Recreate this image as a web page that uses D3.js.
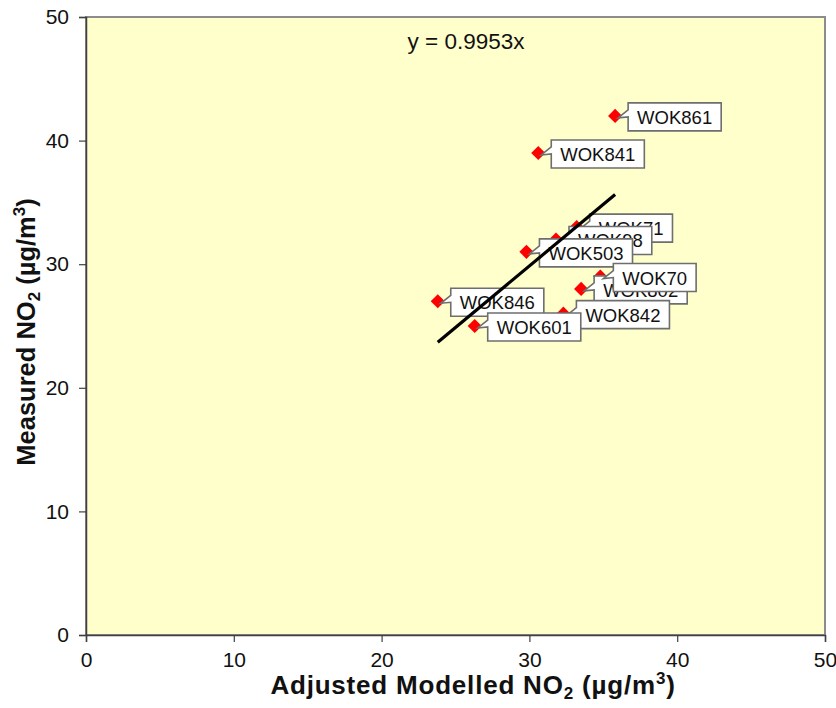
<!DOCTYPE html>
<html>
<head>
<meta charset="utf-8">
<script src="https://cdn.jsdelivr.net/npm/d3@7"></script>
<style>
  html, body { margin: 0; padding: 0; background: #fff; }
  svg { display: block; font-family: "Liberation Sans", Arial, sans-serif; }
</style>
</head>
<body>
<svg id="chart" width="836" height="708"></svg>
<script>
// Diffusion tube sites: adjusted modelled vs measured NO2 (µg/m³)
const sites    = ["WOK861", "WOK841", "WOK71", "WOK98", "WOK503", "WOK802", "WOK70", "WOK842", "WOK846", "WOK601"];
const modelled = [35.8, 30.6, 33.2, 31.8, 29.8, 33.5, 34.8, 32.3, 23.8, 26.3];
const measured = [42, 39, 33, 32, 31, 28, 29, 26, 27, 25];
const slope = 0.9953;
const xTicks = [0, 10, 20, 30, 40, 50];
const yTicks = [0, 10, 20, 30, 40, 50];

const svg = d3.select("#chart");
const m = { left: 86, right: 11, top: 17, bottom: 73 };
const W = 836, H = 708;
const x = d3.scaleLinear().domain([0, 50]).range([m.left, W - m.right]);
const y = d3.scaleLinear().domain([0, 50]).range([H - m.bottom, m.top]);

// plot area
svg.append("rect")
  .attr("x", x(0)).attr("y", y(50))
  .attr("width", x(50) - x(0)).attr("height", y(0) - y(50))
  .attr("fill", "#FFFFCC").attr("stroke", "#8c8c8c").attr("stroke-width", 2);

// axes
const xAxis = svg.append("g")
  .attr("transform", `translate(0,${y(0)})`)
  .call(d3.axisBottom(x).tickValues(xTicks).tickSize(7).tickPadding(10));
const yAxis = svg.append("g")
  .attr("transform", `translate(${x(0)},0)`)
  .call(d3.axisLeft(y).tickValues(yTicks).tickSize(7).tickPadding(10));
[xAxis, yAxis].forEach(g => {
  g.select(".domain").attr("stroke", "#404040").attr("stroke-width", 1.5);
  g.selectAll(".tick line").attr("stroke", "#404040").attr("stroke-width", 1.2);
  g.selectAll(".tick text")
    .attr("font-family", "'Liberation Sans', Arial, sans-serif")
    .attr("font-size", 21).attr("fill", "#111");
});

// points
const pts = sites.map((s, i) => ({ site: s, mx: modelled[i], my: measured[i] }));
svg.append("g").selectAll("path")
  .data(pts).join("path")
  .attr("d", d3.symbol(d3.symbolSquare, 100)())
  .attr("transform", d => `translate(${x(d.mx)},${y(d.my)}) rotate(45)`)
  .attr("fill", "#FF0000");

// callout labels
const lg = svg.append("g");
pts.forEach(d => {
  const px = x(d.mx), py = y(d.my);
  const g = lg.append("g");
  const t = g.append("text")
    .attr("font-size", 18.5).attr("fill", "#111")
    .text(d.site);
  const tw = t.node().getComputedTextLength();
  const x0 = px + 13, y0 = py - 13, w = tw + 18, h = 28;
  t.attr("x", x0 + 9).attr("y", y0 + 21);
  g.insert("path", "text")
    .attr("d", `M${x0},${y0} H${x0 + w} V${y0 + h} H${x0} V${y0 + 14} L${px + 3},${py + 2} L${x0},${y0 + 7} Z`)
    .attr("fill", "#fff").attr("stroke", "#6e6e6e").attr("stroke-width", 1.6)
    .attr("stroke-linejoin", "miter");
});

// trendline through origin, spanning the data range
const [xmin, xmax] = d3.extent(modelled);
svg.append("line")
  .attr("x1", x(xmin)).attr("y1", y(slope * xmin))
  .attr("x2", x(xmax)).attr("y2", y(slope * xmax))
  .attr("stroke", "#000").attr("stroke-width", 3.2);

// equation
svg.append("text")
  .attr("x", 466).attr("y", 49).attr("text-anchor", "middle")
  .attr("font-size", 22.5).attr("fill", "#111")
  .text(`y = ${slope}x`);

// axis titles
const xt = svg.append("text")
  .attr("x", 473).attr("y", 694).attr("text-anchor", "middle")
  .attr("font-size", 26).attr("font-weight", "bold").attr("fill", "#111")
  .attr("letter-spacing", 0.8);
xt.append("tspan").text("Adjusted Modelled NO");
xt.append("tspan").attr("font-size", 17).attr("dy", 5).text("2");
xt.append("tspan").attr("dy", -5).text(" (µg/m");
xt.append("tspan").attr("font-size", 17).attr("dy", -10).text("3");
xt.append("tspan").attr("dy", 10).text(")");

const yt = svg.append("text")
  .attr("transform", "translate(35,332) rotate(-90)")
  .attr("text-anchor", "middle")
  .attr("font-size", 25.5).attr("font-weight", "bold").attr("fill", "#111");
yt.append("tspan").text("Measured NO");
yt.append("tspan").attr("font-size", 17).attr("dy", 5).text("2");
yt.append("tspan").attr("dy", -5).text(" (µg/m");
yt.append("tspan").attr("font-size", 17).attr("dy", -10).text("3");
yt.append("tspan").attr("dy", 10).text(")");
</script>
</body>
</html>
